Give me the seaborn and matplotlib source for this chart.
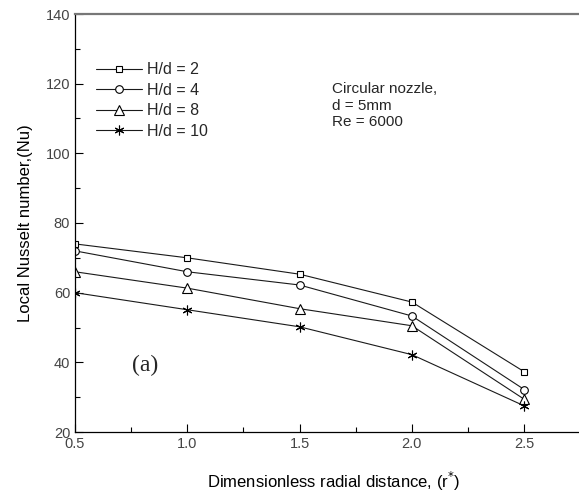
import matplotlib
matplotlib.use("Agg")
import matplotlib.pyplot as plt
import seaborn as sns
import pandas as pd
from matplotlib.ticker import MultipleLocator

r_star = [0.5, 1.0, 1.5, 2.0, 2.5]
nu_hd2 = [74, 70, 65.3, 57.3, 37.3]
nu_hd4 = [72, 66, 62.2, 53.3, 32.2]
nu_hd8 = [66, 61.3, 55.4, 50.5, 29.4]
nu_hd10 = [60, 55.1, 50.2, 42.2, 27.5]
series_labels = ["H/d = 2", "H/d = 4", "H/d = 8", "H/d = 10"]
series_values = [nu_hd2, nu_hd4, nu_hd8, nu_hd10]
series_markers = ["s", "o", "^", (6, 2, 0)]
series_msize = [5, 5.5, 7, 7]

sns.set_style("white")
plt.rcParams["font.family"] = ["Liberation Sans", "DejaVu Sans"]

fig = plt.figure(figsize=(5.79, 4.93), dpi=100)
ax = fig.add_axes([75/579, 61/493, 516.6/579, 418/493])

for lab, vals, mk, ms in zip(series_labels, series_values, series_markers, series_msize):
    df = pd.DataFrame({"r": r_star, "Nu": vals})
    sns.lineplot(data=df, x="r", y="Nu", ax=ax, color="#1a1a1a", lw=0.8,
                 marker=mk, markersize=ms, markerfacecolor="white",
                 markeredgecolor="black", markeredgewidth=0.8, label=lab)

ax.set_xlim(0.5, 2.8)
ax.set_ylim(20, 140)
ax.xaxis.set_major_locator(MultipleLocator(0.5))
ax.xaxis.set_minor_locator(MultipleLocator(0.25))
ax.yaxis.set_major_locator(MultipleLocator(20))
ax.yaxis.set_minor_locator(MultipleLocator(10))
ax.tick_params(which="both", direction="in", colors="black", labelcolor="#444444",
               labelsize=10.5, top=False, right=False, bottom=True, left=True)
ax.tick_params(which="major", length=6, width=0.8)
ax.tick_params(which="minor", length=3.5, width=0.8)
ax.xaxis.set_major_formatter(matplotlib.ticker.FormatStrFormatter("%.1f"))

for s in ["left", "bottom"]:
    ax.spines[s].set_color("black")
    ax.spines[s].set_linewidth(0.9)
ax.spines["top"].set_color("#777777")
ax.spines["top"].set_linewidth(1.6)
ax.spines["right"].set_visible(False)

ax.set_xlabel("Dimensionless radial distance, (r$^{*}$)", fontsize=12, color="black", labelpad=14)
ax.set_ylabel("Local Nusselt number,(Nu)", fontsize=12, color="black", labelpad=9)

leg = ax.legend(loc="upper left", bbox_to_anchor=(0.028, 0.9), frameon=False,
                fontsize=11.5, handlelength=2.9, handletextpad=0.3,
                labelspacing=0.35, borderaxespad=0)

ax.text(332/579, (493-82)/493, "Circular nozzle,\nd = 5mm\nRe = 6000",
        transform=fig.transFigure, fontsize=11, va="top", ha="left",
        linespacing=1.25)
ax.text(132/579, (493-365)/493, "(a)", transform=fig.transFigure,
        fontsize=17, va="center", ha="left", family=["Liberation Serif", "DejaVu Serif"])

fig.savefig("out.png", dpi=100)
